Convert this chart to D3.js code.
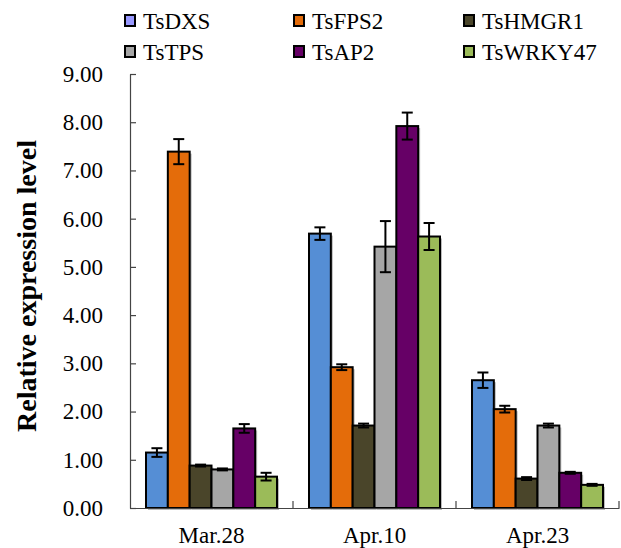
<!DOCTYPE html>
<html>
<head>
<meta charset="utf-8">
<script src="https://cdn.jsdelivr.net/npm/d3@7"></script>
<style>
  html, body { margin: 0; padding: 0; background: #fff; }
  svg { display: block; }
</style>
</head>
<body>
<svg id="chart" width="621" height="548"></svg>
<script>
const categories = ["Mar.28", "Apr.10", "Apr.23"];
const seriesNames = ["TsDXS", "TsFPS2", "TsHMGR1", "TsTPS", "TsAP2", "TsWRKY47"];
const barColors = ["#558ED5", "#E46C0A", "#4A452A", "#A6A6A6", "#660066", "#9BBB59"];
const legendColors = ["#9999FF", "#E46C0A", "#4A452A", "#A6A6A6", "#660066", "#9BBB59"];
// values per series, across categories
const TsDXS    = [1.15, 5.69, 2.65];
const TsFPS2   = [7.39, 2.92, 2.05];
const TsHMGR1  = [0.88, 1.71, 0.61];
const TsTPS    = [0.80, 5.42, 1.71];
const TsAP2    = [1.65, 7.92, 0.73];
const TsWRKY47 = [0.65, 5.63, 0.48];
// standard errors
const errDXS    = [0.09, 0.13, 0.16];
const errFPS2   = [0.26, 0.06, 0.07];
const errHMGR1  = [0.02, 0.04, 0.03];
const errTPS    = [0.02, 0.53, 0.04];
const errAP2    = [0.09, 0.28, 0.02];
const errWRKY47 = [0.08, 0.28, 0.02];
const yTicks = [0, 1, 2, 3, 4, 5, 6, 7, 8, 9];

const values = [TsDXS, TsFPS2, TsHMGR1, TsTPS, TsAP2, TsWRKY47];
const errors = [errDXS, errFPS2, errHMGR1, errTPS, errAP2, errWRKY47];

const FONT = "Liberation Serif, Times New Roman, Times, DejaVu Serif, serif";

const svg = d3.select("#chart");
const mLeft = 130, mRight = 619, mTop = 74, mBottom = 508;

const y = d3.scaleLinear().domain([0, 9]).range([mBottom, mTop]);
const x0 = d3.scaleBand().domain(categories).range([mLeft, mRight]).padding(0);
const inner = 16;
const x1 = d3.scaleBand().domain(seriesNames).range([inner, x0.bandwidth() - inner]).padding(0);

// y axis
const yAxis = d3.axisLeft(y).tickValues(yTicks).tickFormat(d3.format(".2f")).tickSizeInner(-6).tickSizeOuter(0).tickPadding(27);
const gy = svg.append("g").attr("transform", `translate(${mLeft},0)`).call(yAxis)
  .attr("font-family", FONT).attr("font-size", 23);
gy.select(".domain").attr("stroke", "#444").attr("stroke-width", 1.2);
gy.selectAll(".tick line").attr("stroke", "#444").attr("stroke-width", 1.2);
gy.selectAll(".tick text").attr("font-family", FONT).attr("font-size", 23).attr("fill", "#000");

// y title
svg.append("text")
  .attr("transform", `translate(36, ${(mTop + mBottom) / 2 - 5}) rotate(-90)`)
  .attr("text-anchor", "middle")
  .attr("font-family", FONT).attr("font-size", 28).attr("font-weight", "bold")
  .text("Relative expression level");

// bars
const groups = svg.append("g").selectAll("g").data(categories).join("g")
  .attr("transform", d => `translate(${x0(d)},0)`);

seriesNames.forEach((s, si) => {
  groups.append("rect")
    .attr("x", (d, ci) => x1(s) + 2)
    .attr("y", (d, ci) => y(values[si][ci]) + 2)
    .attr("width", x1.bandwidth())
    .attr("height", (d, ci) => y(0) - y(values[si][ci]))
    .attr("fill", "#bbb");
});
seriesNames.forEach((s, si) => {
  groups.append("rect")
    .attr("x", (d, ci) => x1(s))
    .attr("y", (d, ci) => y(values[si][ci]))
    .attr("width", x1.bandwidth())
    .attr("height", (d, ci) => y(0) - y(values[si][ci]))
    .attr("fill", barColors[si])
    .attr("stroke", "#000")
    .attr("stroke-width", 2);
});
// error bars
seriesNames.forEach((s, si) => {
  const cx = x1(s) + x1.bandwidth() / 2;
  groups.each(function(d, ci) {
    const g = d3.select(this);
    const v = values[si][ci], e = errors[si][ci];
    const hi = y(v + e), lo = y(v - e);
    g.append("line").attr("x1", cx).attr("x2", cx).attr("y1", hi).attr("y2", lo).attr("stroke", "#000").attr("stroke-width", 2);
    g.append("line").attr("x1", cx - 5.5).attr("x2", cx + 5.5).attr("y1", hi).attr("y2", hi).attr("stroke", "#000").attr("stroke-width", 2);
    g.append("line").attr("x1", cx - 5.5).attr("x2", cx + 5.5).attr("y1", lo).attr("y2", lo).attr("stroke", "#000").attr("stroke-width", 2);
  });
});

// x axis
const xAxis = d3.axisBottom(x0).tickSize(0).tickPadding(19);
const gx = svg.append("g").attr("transform", `translate(0,${mBottom})`).call(xAxis)
  .attr("font-family", FONT).attr("font-size", 23);
gx.select(".domain").attr("stroke", "#444").attr("stroke-width", 1.2);
gx.selectAll(".tick text").attr("font-family", FONT).attr("font-size", 23).attr("fill", "#000");
// category separator ticks
svg.append("g").selectAll("line").data(categories).join("line")
  .attr("x1", d => x0(d) + x0.bandwidth()).attr("x2", d => x0(d) + x0.bandwidth())
  .attr("y1", mBottom).attr("y2", mBottom - 7)
  .attr("stroke", "#444").attr("stroke-width", 1.2);

// legend
const legendX = [124, 293, 463];
const legendY = [21, 52];
const lg = svg.append("g").selectAll("g").data(seriesNames).join("g")
  .attr("transform", (d, i) => `translate(${legendX[i % 3]},${legendY[Math.floor(i / 3)]})`);
lg.append("rect").attr("x", 1).attr("y", -6).attr("width", 10).attr("height", 11)
  .attr("fill", (d, i) => legendColors[i]).attr("stroke", "#000").attr("stroke-width", 2);
lg.append("text").attr("x", 19).attr("y", 7.5)
  .attr("font-family", FONT).attr("font-size", 23).attr("fill", "#000").text(d => d);
</script>
</body>
</html>
